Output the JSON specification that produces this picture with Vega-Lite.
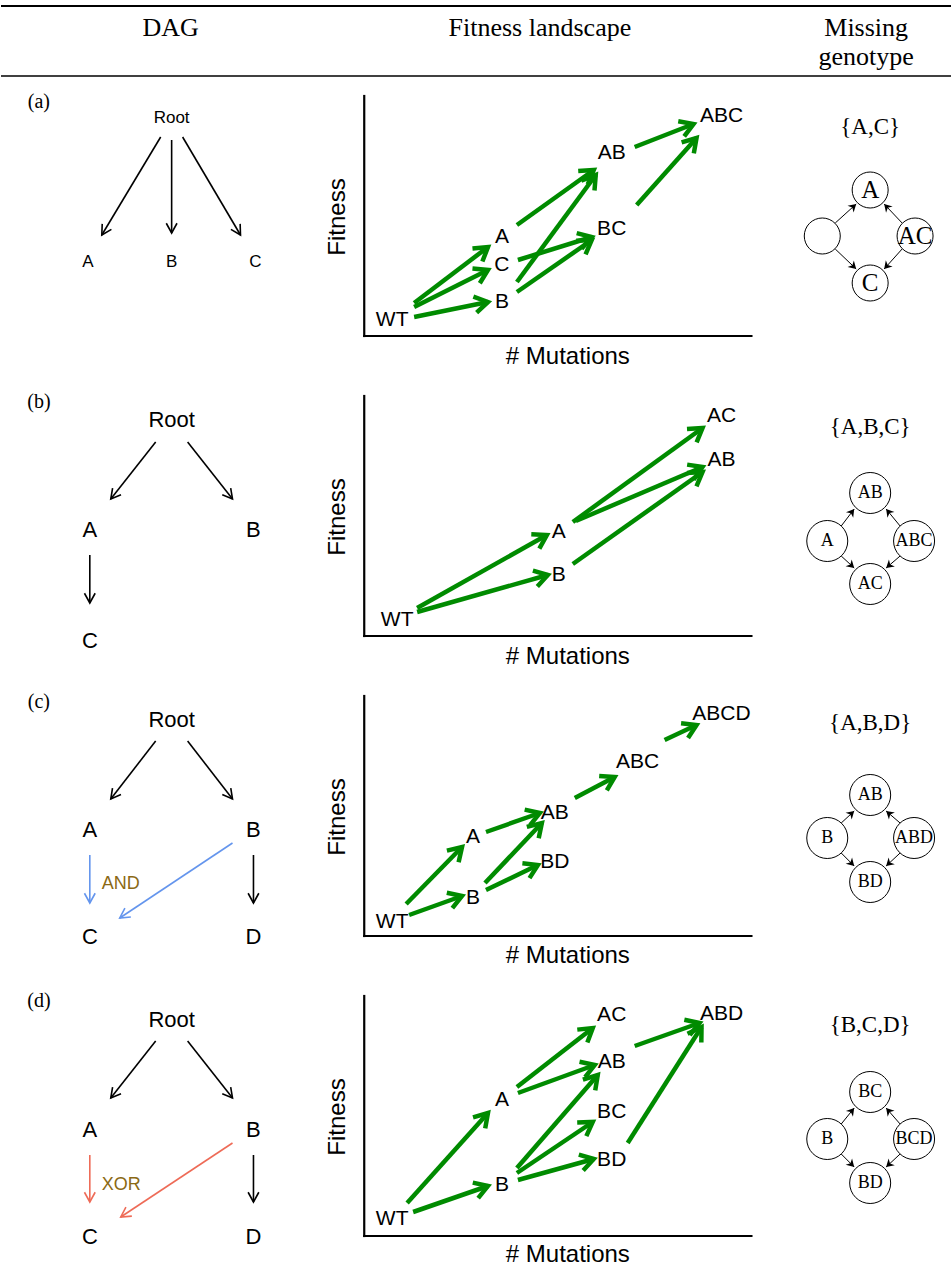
{
  "$schema": "https://vega.github.io/schema/vega-lite/v6.json",
  "width": 952,
  "height": 1280,
  "autosize": {"type": "fit", "contains": "padding"},
  "padding": 0,
  "background": "white",
  "config": {"view": {"stroke": null}},
  "datasets": {
    "hrules": [
      {"kind": "thick", "x": 0, "y": 6, "x2": 952, "y2": 6},
      {"kind": "thin", "x": 0, "y": 76, "x2": 952, "y2": 76}
    ],
    "axes": [
      {"panel": "a", "x": 364, "y": 96, "x2": 364, "y2": 336},
      {"panel": "a", "x": 364, "y": 336, "x2": 752, "y2": 336},
      {"panel": "b", "x": 364, "y": 396, "x2": 364, "y2": 636},
      {"panel": "b", "x": 364, "y": 636, "x2": 752, "y2": 636},
      {"panel": "c", "x": 364, "y": 696, "x2": 364, "y2": 936},
      {"panel": "c", "x": 364, "y": 936, "x2": 752, "y2": 936},
      {"panel": "d", "x": 364, "y": 996, "x2": 364, "y2": 1236},
      {"panel": "d", "x": 364, "y": 1236, "x2": 752, "y2": 1236}
    ],
    "dagEdges": [
      {"panel": "a", "kind": "plain", "x": 160, "y": 137, "x2": 101, "y2": 235},
      {"panel": "a", "kind": "plain", "x": 171, "y": 140, "x2": 171, "y2": 233},
      {"panel": "a", "kind": "plain", "x": 182, "y": 137, "x2": 240, "y2": 235},
      {"panel": "b", "kind": "plain", "x": 155, "y": 442, "x2": 110, "y2": 499},
      {"panel": "b", "kind": "plain", "x": 187, "y": 442, "x2": 232, "y2": 499},
      {"panel": "b", "kind": "plain", "x": 89, "y": 555, "x2": 89, "y2": 603},
      {"panel": "c", "kind": "plain", "x": 155, "y": 741, "x2": 110, "y2": 799},
      {"panel": "c", "kind": "plain", "x": 187, "y": 741, "x2": 232, "y2": 799},
      {"panel": "c", "kind": "and", "x": 89, "y": 855, "x2": 89, "y2": 903},
      {"panel": "c", "kind": "and", "x": 232, "y": 843, "x2": 119, "y2": 918},
      {"panel": "c", "kind": "plain", "x": 253, "y": 855, "x2": 253, "y2": 903},
      {"panel": "d", "kind": "plain", "x": 155, "y": 1041, "x2": 110, "y2": 1098},
      {"panel": "d", "kind": "plain", "x": 187, "y": 1041, "x2": 232, "y2": 1098},
      {"panel": "d", "kind": "xor", "x": 89, "y": 1155, "x2": 89, "y2": 1202},
      {"panel": "d", "kind": "xor", "x": 232, "y": 1143, "x2": 120, "y2": 1217},
      {"panel": "d", "kind": "plain", "x": 253, "y": 1155, "x2": 253, "y2": 1202}
    ],
    "fitEdges": [
      {"panel": "a", "from": "WT", "to": "A", "x": 414, "y": 303, "x2": 488, "y2": 247},
      {"panel": "a", "from": "WT", "to": "C", "x": 414, "y": 307, "x2": 488, "y2": 270},
      {"panel": "a", "from": "WT", "to": "B", "x": 414, "y": 317, "x2": 488, "y2": 302},
      {"panel": "a", "from": "A", "to": "AB", "x": 517, "y": 225, "x2": 594, "y2": 170},
      {"panel": "a", "from": "B", "to": "AB", "x": 517, "y": 282, "x2": 596, "y2": 175},
      {"panel": "a", "from": "C", "to": "BC", "x": 518, "y": 260, "x2": 592, "y2": 237},
      {"panel": "a", "from": "B", "to": "BC", "x": 517, "y": 292, "x2": 592, "y2": 240},
      {"panel": "a", "from": "AB", "to": "ABC", "x": 635, "y": 147, "x2": 694, "y2": 124},
      {"panel": "a", "from": "BC", "to": "ABC", "x": 637, "y": 205, "x2": 697, "y2": 138},
      {"panel": "b", "from": "WT", "to": "A", "x": 417, "y": 608, "x2": 547, "y2": 535},
      {"panel": "b", "from": "WT", "to": "B", "x": 417, "y": 612, "x2": 548, "y2": 575},
      {"panel": "b", "from": "A", "to": "AC", "x": 573, "y": 522, "x2": 703, "y2": 428},
      {"panel": "b", "from": "A", "to": "AB", "x": 576, "y": 521, "x2": 703, "y2": 467},
      {"panel": "b", "from": "B", "to": "AB", "x": 573, "y": 564, "x2": 703, "y2": 472},
      {"panel": "c", "from": "WT", "to": "A", "x": 406, "y": 904, "x2": 462, "y2": 847},
      {"panel": "c", "from": "WT", "to": "B", "x": 409, "y": 915, "x2": 462, "y2": 896},
      {"panel": "c", "from": "A", "to": "AB", "x": 486, "y": 832, "x2": 540, "y2": 813},
      {"panel": "c", "from": "B", "to": "AB", "x": 485, "y": 883, "x2": 542, "y2": 823},
      {"panel": "c", "from": "B", "to": "BD", "x": 486, "y": 890, "x2": 538, "y2": 865},
      {"panel": "c", "from": "AB", "to": "ABC", "x": 575, "y": 798, "x2": 615, "y2": 777},
      {"panel": "c", "from": "ABC", "to": "ABCD", "x": 665, "y": 740, "x2": 697, "y2": 725},
      {"panel": "d", "from": "WT", "to": "A", "x": 407, "y": 1203, "x2": 488, "y2": 1113},
      {"panel": "d", "from": "WT", "to": "B", "x": 413, "y": 1212, "x2": 488, "y2": 1186},
      {"panel": "d", "from": "A", "to": "AC", "x": 517, "y": 1087, "x2": 593, "y2": 1028},
      {"panel": "d", "from": "A", "to": "AB", "x": 518, "y": 1093, "x2": 595, "y2": 1065},
      {"panel": "d", "from": "B", "to": "AB", "x": 517, "y": 1168, "x2": 598, "y2": 1075},
      {"panel": "d", "from": "B", "to": "BC", "x": 517, "y": 1173, "x2": 593, "y2": 1122},
      {"panel": "d", "from": "B", "to": "BD", "x": 518, "y": 1180, "x2": 594, "y2": 1159},
      {"panel": "d", "from": "AB", "to": "ABD", "x": 635, "y": 1046, "x2": 700, "y2": 1023},
      {"panel": "d", "from": "BD", "to": "ABD", "x": 628, "y": 1143, "x2": 702, "y2": 1027}
    ],
    "missEdges": [
      {"panel": "a", "x": 836, "y": 223, "x2": 857, "y2": 204},
      {"panel": "a", "x": 836, "y": 249, "x2": 857, "y2": 269},
      {"panel": "a", "x": 903, "y": 223, "x2": 885, "y2": 204},
      {"panel": "a", "x": 903, "y": 249, "x2": 885, "y2": 269},
      {"panel": "b", "x": 842, "y": 526, "x2": 855, "y2": 509},
      {"panel": "b", "x": 842, "y": 556, "x2": 855, "y2": 568},
      {"panel": "b", "x": 901, "y": 526, "x2": 887, "y2": 509},
      {"panel": "b", "x": 901, "y": 556, "x2": 887, "y2": 568},
      {"panel": "c", "x": 842, "y": 823, "x2": 855, "y2": 811},
      {"panel": "c", "x": 842, "y": 853, "x2": 855, "y2": 866},
      {"panel": "c", "x": 901, "y": 823, "x2": 887, "y2": 811},
      {"panel": "c", "x": 901, "y": 853, "x2": 887, "y2": 866},
      {"panel": "d", "x": 842, "y": 1124, "x2": 855, "y2": 1108},
      {"panel": "d", "x": 842, "y": 1154, "x2": 855, "y2": 1167},
      {"panel": "d", "x": 901, "y": 1124, "x2": 887, "y2": 1108},
      {"panel": "d", "x": 901, "y": 1154, "x2": 887, "y2": 1167}
    ],
    "nodes": [
      {"panel": "a", "x": 871, "y": 190}, {"panel": "a", "x": 823, "y": 236},
      {"panel": "a", "x": 916, "y": 236}, {"panel": "a", "x": 871, "y": 283},
      {"panel": "b", "x": 871, "y": 493}, {"panel": "b", "x": 828, "y": 541},
      {"panel": "b", "x": 915, "y": 541}, {"panel": "b", "x": 871, "y": 584},
      {"panel": "c", "x": 871, "y": 795}, {"panel": "c", "x": 828, "y": 838},
      {"panel": "c", "x": 915, "y": 838}, {"panel": "c", "x": 871, "y": 882},
      {"panel": "d", "x": 871, "y": 1092}, {"panel": "d", "x": 828, "y": 1139},
      {"panel": "d", "x": 915, "y": 1139}, {"panel": "d", "x": 871, "y": 1183}
    ],
    "labels": [
      {"group": "h", "x": 170, "y": 28, "label": "DAG"},
      {"group": "h", "x": 540, "y": 28, "label": "Fitness landscape"},
      {"group": "h", "x": 867, "y": 28, "label": "Missing"},
      {"group": "h", "x": 867, "y": 57, "label": "genotype"},
      {"group": "p", "x": 38, "y": 102, "label": "(a)"},
      {"group": "p", "x": 38, "y": 402, "label": "(b)"},
      {"group": "p", "x": 38, "y": 702, "label": "(c)"},
      {"group": "p", "x": 38, "y": 1001, "label": "(d)"},
      {"group": "dagA", "x": 171, "y": 118, "label": "Root"},
      {"group": "dagA", "x": 87, "y": 262, "label": "A"},
      {"group": "dagA", "x": 171, "y": 262, "label": "B"},
      {"group": "dagA", "x": 255, "y": 262, "label": "C"},
      {"group": "dag", "x": 171, "y": 420, "label": "Root"},
      {"group": "dag", "x": 89, "y": 530, "label": "A"},
      {"group": "dag", "x": 253, "y": 530, "label": "B"},
      {"group": "dag", "x": 89, "y": 641, "label": "C"},
      {"group": "dag", "x": 171, "y": 720, "label": "Root"},
      {"group": "dag", "x": 89, "y": 830, "label": "A"},
      {"group": "dag", "x": 253, "y": 830, "label": "B"},
      {"group": "dag", "x": 89, "y": 937, "label": "C"},
      {"group": "dag", "x": 253, "y": 937, "label": "D"},
      {"group": "dag", "x": 171, "y": 1020, "label": "Root"},
      {"group": "dag", "x": 89, "y": 1130, "label": "A"},
      {"group": "dag", "x": 253, "y": 1130, "label": "B"},
      {"group": "dag", "x": 89, "y": 1237, "label": "C"},
      {"group": "dag", "x": 253, "y": 1237, "label": "D"},
      {"group": "op", "x": 101, "y": 884, "label": "AND"},
      {"group": "op", "x": 101, "y": 1185, "label": "XOR"},
      {"group": "fit", "x": 392, "y": 320, "label": "WT"},
      {"group": "fit", "x": 502, "y": 237, "label": "A"},
      {"group": "fit", "x": 502, "y": 265, "label": "C"},
      {"group": "fit", "x": 502, "y": 302, "label": "B"},
      {"group": "fit", "x": 612, "y": 153, "label": "AB"},
      {"group": "fit", "x": 612, "y": 229, "label": "BC"},
      {"group": "fit", "x": 722, "y": 116, "label": "ABC"},
      {"group": "fit", "x": 397, "y": 620, "label": "WT"},
      {"group": "fit", "x": 559, "y": 532, "label": "A"},
      {"group": "fit", "x": 559, "y": 575, "label": "B"},
      {"group": "fit", "x": 722, "y": 416, "label": "AC"},
      {"group": "fit", "x": 722, "y": 460, "label": "AB"},
      {"group": "fit", "x": 392, "y": 922, "label": "WT"},
      {"group": "fit", "x": 473, "y": 837, "label": "A"},
      {"group": "fit", "x": 473, "y": 898, "label": "B"},
      {"group": "fit", "x": 555, "y": 813, "label": "AB"},
      {"group": "fit", "x": 555, "y": 862, "label": "BD"},
      {"group": "fit", "x": 638, "y": 762, "label": "ABC"},
      {"group": "fit", "x": 722, "y": 714, "label": "ABCD"},
      {"group": "fit", "x": 392, "y": 1219, "label": "WT"},
      {"group": "fit", "x": 502, "y": 1100, "label": "A"},
      {"group": "fit", "x": 502, "y": 1185, "label": "B"},
      {"group": "fit", "x": 612, "y": 1015, "label": "AC"},
      {"group": "fit", "x": 612, "y": 1062, "label": "AB"},
      {"group": "fit", "x": 612, "y": 1112, "label": "BC"},
      {"group": "fit", "x": 612, "y": 1160, "label": "BD"},
      {"group": "fit", "x": 722, "y": 1014, "label": "ABD"},
      {"group": "xt", "x": 568, "y": 357, "label": "# Mutations"},
      {"group": "xt", "x": 568, "y": 657, "label": "# Mutations"},
      {"group": "xt", "x": 568, "y": 956, "label": "# Mutations"},
      {"group": "xt", "x": 568, "y": 1255, "label": "# Mutations"},
      {"group": "yt", "x": 338, "y": 217, "label": "Fitness"},
      {"group": "yt", "x": 338, "y": 517, "label": "Fitness"},
      {"group": "yt", "x": 338, "y": 817, "label": "Fitness"},
      {"group": "yt", "x": 338, "y": 1117, "label": "Fitness"},
      {"group": "set", "x": 871, "y": 127, "label": "{A,C}"},
      {"group": "set", "x": 871, "y": 427, "label": "{A,B,C}"},
      {"group": "set", "x": 871, "y": 723, "label": "{A,B,D}"},
      {"group": "set", "x": 871, "y": 1025, "label": "{B,C,D}"},
      {"group": "nodeA", "x": 871, "y": 190, "label": "A"},
      {"group": "nodeA", "x": 916, "y": 236, "label": "AC"},
      {"group": "nodeA", "x": 871, "y": 283, "label": "C"},
      {"group": "node", "x": 871, "y": 493, "label": "AB"},
      {"group": "node", "x": 828, "y": 541, "label": "A"},
      {"group": "node", "x": 915, "y": 541, "label": "ABC"},
      {"group": "node", "x": 871, "y": 584, "label": "AC"},
      {"group": "node", "x": 871, "y": 795, "label": "AB"},
      {"group": "node", "x": 828, "y": 838, "label": "B"},
      {"group": "node", "x": 915, "y": 838, "label": "ABD"},
      {"group": "node", "x": 871, "y": 882, "label": "BD"},
      {"group": "node", "x": 871, "y": 1092, "label": "BC"},
      {"group": "node", "x": 828, "y": 1139, "label": "B"},
      {"group": "node", "x": 915, "y": 1139, "label": "BCD"},
      {"group": "node", "x": 871, "y": 1183, "label": "BD"}
    ]
  },
  "encoding": {
    "x": {"field": "x", "type": "quantitative", "scale": {"domain": [0, 952], "nice": false, "zero": false}, "axis": null},
    "y": {"field": "y", "type": "quantitative", "scale": {"domain": [0, 1280], "nice": false, "zero": false, "reverse": true}, "axis": null}
  },
  "layer": [
    {
      "data": {"name": "hrules"},
      "transform": [{"filter": "datum.kind === 'thick'"}],
      "mark": {"type": "rule", "color": "black", "strokeWidth": 2},
      "encoding": {"x2": {"field": "x2"}, "y2": {"field": "y2"}}
    },
    {
      "data": {"name": "hrules"},
      "transform": [{"filter": "datum.kind === 'thin'"}],
      "mark": {"type": "rule", "color": "black", "strokeWidth": 1.3},
      "encoding": {"x2": {"field": "x2"}, "y2": {"field": "y2"}}
    },
    {
      "data": {"name": "axes"},
      "mark": {"type": "rule", "color": "black", "strokeWidth": 2.2, "strokeCap": "square"},
      "encoding": {"x2": {"field": "x2"}, "y2": {"field": "y2"}}
    },
    {
      "data": {"name": "dagEdges"},
      "mark": {"type": "rule", "strokeWidth": 1.6},
      "encoding": {
        "x2": {"field": "x2"}, "y2": {"field": "y2"},
        "color": {"field": "kind", "type": "nominal", "scale": {"domain": ["plain", "and", "xor"], "range": ["#000000", "#6495ED", "#EE6B57"]}, "legend": null}
      }
    },
    {
      "data": {"name": "dagEdges"},
      "transform": [{"calculate": "atan2(datum.y2 - datum.y, datum.x2 - datum.x) * 180 / PI", "as": "ang"}],
      "mark": {"type": "point", "shape": "M-1,-0.55L0,0L-1,0.55", "size": 380, "filled": false, "strokeWidth": 1.6, "opacity": 1},
      "encoding": {
        "x": {"field": "x2", "type": "quantitative", "scale": {"domain": [0, 952], "nice": false, "zero": false}, "axis": null},
        "y": {"field": "y2", "type": "quantitative", "scale": {"domain": [0, 1280], "nice": false, "zero": false, "reverse": true}, "axis": null},
        "angle": {"field": "ang", "type": "quantitative", "scale": null},
        "color": {"field": "kind", "type": "nominal", "scale": {"domain": ["plain", "and", "xor"], "range": ["#000000", "#6495ED", "#EE6B57"]}, "legend": null}
      }
    },
    {
      "data": {"name": "fitEdges"},
      "mark": {"type": "rule", "color": "#008B00", "strokeWidth": 4.5},
      "encoding": {"x2": {"field": "x2"}, "y2": {"field": "y2"}}
    },
    {
      "data": {"name": "fitEdges"},
      "transform": [{"calculate": "atan2(datum.y2 - datum.y, datum.x2 - datum.x) * 180 / PI", "as": "ang"}],
      "mark": {"type": "point", "shape": "M-1,-0.62L0,0L-1,0.62", "size": 700, "filled": false, "stroke": "#008B00", "strokeWidth": 4.5, "opacity": 1},
      "encoding": {
        "x": {"field": "x2", "type": "quantitative", "scale": {"domain": [0, 952], "nice": false, "zero": false}, "axis": null},
        "y": {"field": "y2", "type": "quantitative", "scale": {"domain": [0, 1280], "nice": false, "zero": false, "reverse": true}, "axis": null},
        "angle": {"field": "ang", "type": "quantitative", "scale": null}
      }
    },
    {
      "data": {"name": "nodes"},
      "transform": [{"filter": "datum.panel === 'a'"}],
      "mark": {"type": "point", "shape": "circle", "size": 1296, "fill": "white", "stroke": "black", "strokeWidth": 1, "filled": false, "opacity": 1, "fillOpacity": 1}
    },
    {
      "data": {"name": "nodes"},
      "transform": [{"filter": "datum.panel !== 'a'"}],
      "mark": {"type": "point", "shape": "circle", "size": 1681, "fill": "white", "stroke": "black", "strokeWidth": 1, "filled": false, "opacity": 1, "fillOpacity": 1}
    },
    {
      "data": {"name": "missEdges"},
      "mark": {"type": "rule", "color": "black", "strokeWidth": 1},
      "encoding": {"x2": {"field": "x2"}, "y2": {"field": "y2"}}
    },
    {
      "data": {"name": "missEdges"},
      "transform": [{"calculate": "atan2(datum.y2 - datum.y, datum.x2 - datum.x) * 180 / PI", "as": "ang"}],
      "mark": {"type": "point", "shape": "M0,0L-1,-0.6L-0.7,0L-1,0.6Z", "size": 230, "filled": true, "color": "black", "opacity": 1},
      "encoding": {
        "x": {"field": "x2", "type": "quantitative", "scale": {"domain": [0, 952], "nice": false, "zero": false}, "axis": null},
        "y": {"field": "y2", "type": "quantitative", "scale": {"domain": [0, 1280], "nice": false, "zero": false, "reverse": true}, "axis": null},
        "angle": {"field": "ang", "type": "quantitative", "scale": null}
      }
    },
    {
      "data": {"name": "labels"},
      "transform": [{"filter": "datum.group === 'h'"}],
      "mark": {"type": "text", "font": "Liberation Serif", "fontSize": 26, "baseline": "middle", "align": "center", "color": "black"},
      "encoding": {"text": {"field": "label"}}
    },
    {
      "data": {"name": "labels"},
      "transform": [{"filter": "datum.group === 'p'"}],
      "mark": {"type": "text", "font": "Liberation Serif", "fontSize": 20, "baseline": "middle", "align": "center", "color": "black"},
      "encoding": {"text": {"field": "label"}}
    },
    {
      "data": {"name": "labels"},
      "transform": [{"filter": "datum.group === 'dagA'"}],
      "mark": {"type": "text", "font": "Liberation Sans", "fontSize": 17, "baseline": "middle", "align": "center", "color": "black"},
      "encoding": {"text": {"field": "label"}}
    },
    {
      "data": {"name": "labels"},
      "transform": [{"filter": "datum.group === 'dag'"}],
      "mark": {"type": "text", "font": "Liberation Sans", "fontSize": 22, "baseline": "middle", "align": "center", "color": "black"},
      "encoding": {"text": {"field": "label"}}
    },
    {
      "data": {"name": "labels"},
      "transform": [{"filter": "datum.group === 'op'"}],
      "mark": {"type": "text", "font": "Liberation Sans", "fontSize": 18, "baseline": "middle", "align": "left", "color": "#8B6914"},
      "encoding": {"text": {"field": "label"}}
    },
    {
      "data": {"name": "labels"},
      "transform": [{"filter": "datum.group === 'fit'"}],
      "mark": {"type": "text", "font": "Liberation Sans", "fontSize": 21, "baseline": "middle", "align": "center", "color": "black"},
      "encoding": {"text": {"field": "label"}}
    },
    {
      "data": {"name": "labels"},
      "transform": [{"filter": "datum.group === 'xt'"}],
      "mark": {"type": "text", "font": "Liberation Sans", "fontSize": 24, "baseline": "middle", "align": "center", "color": "black"},
      "encoding": {"text": {"field": "label"}}
    },
    {
      "data": {"name": "labels"},
      "transform": [{"filter": "datum.group === 'yt'"}],
      "mark": {"type": "text", "font": "Liberation Sans", "fontSize": 24, "baseline": "middle", "align": "center", "angle": 270, "color": "black"},
      "encoding": {"text": {"field": "label"}}
    },
    {
      "data": {"name": "labels"},
      "transform": [{"filter": "datum.group === 'set'"}],
      "mark": {"type": "text", "font": "Liberation Serif", "fontSize": 23, "baseline": "middle", "align": "center", "color": "black"},
      "encoding": {"text": {"field": "label"}}
    },
    {
      "data": {"name": "labels"},
      "transform": [{"filter": "datum.group === 'nodeA'"}],
      "mark": {"type": "text", "font": "Liberation Serif", "fontSize": 25, "baseline": "middle", "align": "center", "color": "black"},
      "encoding": {"text": {"field": "label"}}
    },
    {
      "data": {"name": "labels"},
      "transform": [{"filter": "datum.group === 'node'"}],
      "mark": {"type": "text", "font": "Liberation Serif", "fontSize": 18, "baseline": "middle", "align": "center", "color": "black"},
      "encoding": {"text": {"field": "label"}}
    }
  ]
}
